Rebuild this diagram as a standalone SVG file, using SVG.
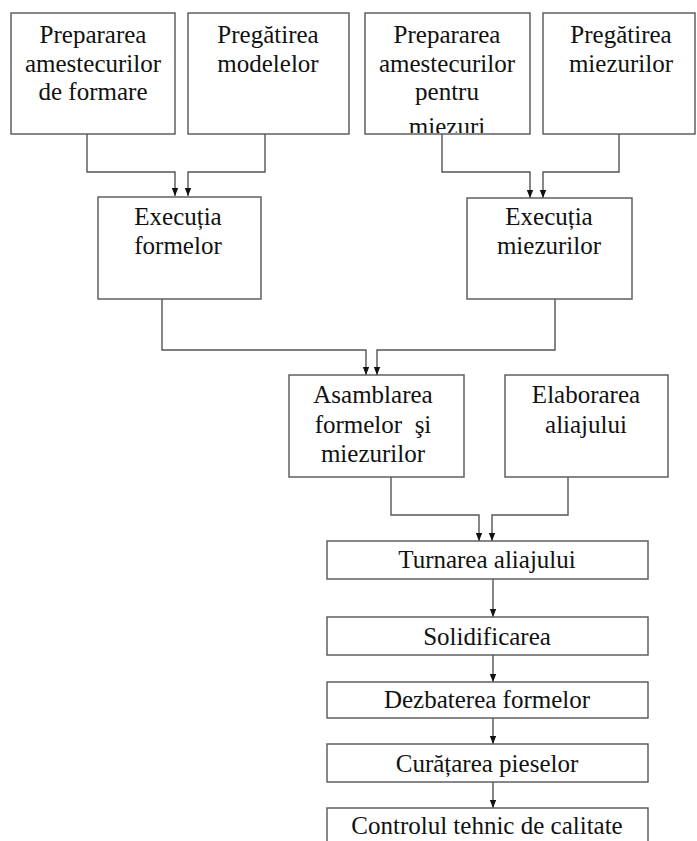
<svg xmlns="http://www.w3.org/2000/svg" width="697" height="841" viewBox="0 0 697 841">
<style>
.box{fill:#fff;stroke:#555;stroke-width:1.4}
.t{font-family:"Liberation Serif","Times New Roman",serif;font-size:25px;fill:#111;text-anchor:middle}
.c{fill:none;stroke:#555;stroke-width:1.4}
</style>
<defs>
<marker id="arv" markerUnits="userSpaceOnUse" markerWidth="8" markerHeight="10" refX="10" refY="4" orient="auto" viewBox="0 0 10 8">
<path d="M0,0 L10,4 L0,8 Z" fill="#111"/>
</marker>
<clipPath id="clipB3"><rect x="365" y="13" width="165" height="120"/></clipPath>
</defs>
<rect width="697" height="841" fill="#fff"/>
<g id="connectors">
<path class="c" d="M87,134 V172 H175 V196" marker-end="url(#arv)"/>
<path class="c" d="M265,134 V172 H188 V196" marker-end="url(#arv)"/>
<path class="c" d="M442,134 V172 H530 V198" marker-end="url(#arv)"/>
<path class="c" d="M619,134 V172 H543 V198" marker-end="url(#arv)"/>
<path class="c" d="M162,299 V350 H366 V375" marker-end="url(#arv)"/>
<path class="c" d="M555,299 V350 H377 V375" marker-end="url(#arv)"/>
<path class="c" d="M391,477 V515 H479 V541" marker-end="url(#arv)"/>
<path class="c" d="M568,477 V515 H492 V541" marker-end="url(#arv)"/>
<path class="c" d="M493,579 V617" marker-end="url(#arv)"/>
<path class="c" d="M493,655 V682" marker-end="url(#arv)"/>
<path class="c" d="M493,718 V744" marker-end="url(#arv)"/>
<path class="c" d="M493,782 V808" marker-end="url(#arv)"/>
</g>
<g id="n1"><rect class="box" x="11" y="13" width="164" height="121"/>
<text class="t" x="93" y="43">Prepararea</text><text class="t" x="93" y="72">amestecurilor</text><text class="t" x="93" y="100">de formare</text></g>
<g id="n2"><rect class="box" x="188" y="13" width="161" height="121"/>
<text class="t" x="268" y="43">Pregătirea</text><text class="t" x="268" y="72">modelelor</text></g>
<g id="n3"><rect class="box" x="365" y="13" width="165" height="121"/>
<g clip-path="url(#clipB3)"><text class="t" x="447" y="43">Prepararea</text><text class="t" x="447" y="72">amestecurilor</text><text class="t" x="447" y="100">pentru</text><text class="t" x="447" y="135">miezuri</text></g></g>
<g id="n4"><rect class="box" x="543" y="13" width="152" height="121"/>
<text class="t" x="621" y="43">Pregătirea</text><text class="t" x="621" y="72">miezurilor</text></g>
<g id="n5"><rect class="box" x="98" y="197" width="163" height="102"/>
<text class="t" x="178" y="225">Execuția</text><text class="t" x="178" y="254">formelor</text></g>
<g id="n6"><rect class="box" x="467" y="198" width="165" height="101"/>
<text class="t" x="549" y="225">Execuția</text><text class="t" x="549" y="254">miezurilor</text></g>
<g id="n7"><rect class="box" x="289" y="375" width="175" height="102"/>
<text class="t" x="373" y="403">Asamblarea</text><text class="t" x="373" y="433" xml:space="preserve">formelor  şi</text><text class="t" x="373" y="462">miezurilor</text></g>
<g id="n8"><rect class="box" x="505" y="375" width="163" height="102"/>
<text class="t" x="586" y="403">Elaborarea</text><text class="t" x="586" y="433">aliajului</text></g>
<g id="n9"><rect class="box" x="327" y="541" width="321" height="38"/>
<text class="t" x="487" y="568">Turnarea aliajului</text></g>
<g id="n10"><rect class="box" x="327" y="617" width="321" height="38"/>
<text class="t" x="487" y="645">Solidificarea</text></g>
<g id="n11"><rect class="box" x="327" y="682" width="321" height="36"/>
<text class="t" x="487" y="708">Dezbaterea formelor</text></g>
<g id="n12"><rect class="box" x="327" y="744" width="321" height="38"/>
<text class="t" x="487" y="772">Curățarea pieselor</text></g>
<g id="n13"><rect class="box" x="327" y="808" width="321" height="40"/>
<text class="t" x="487" y="834">Controlul tehnic de calitate</text></g>
</svg>
